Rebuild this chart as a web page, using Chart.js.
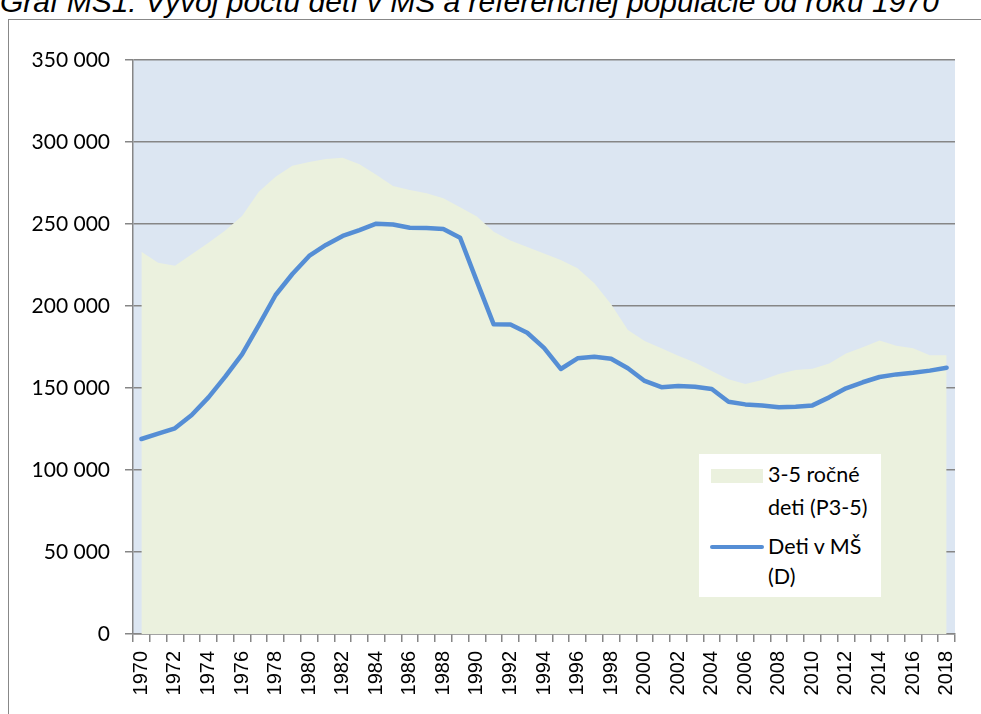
<!DOCTYPE html>
<html>
<head>
<meta charset="utf-8">
<script src="https://cdn.jsdelivr.net/npm/chart.js@4.4.1/dist/chart.umd.min.js"></script>
<style>
  html, body { margin: 0; padding: 0; background: #fff; width: 981px; height: 714px; overflow: hidden; position: relative; }
  #title { position: absolute; left: 0px; top: -13px; font-family: "Liberation Sans", Arial, sans-serif; font-style: italic; font-size: 30px; line-height: 30px; white-space: nowrap; color: #000; }
  #frame { position: absolute; left: 8px; top: 19px; width: 1000px; height: 720px; border-left: 1.5px solid #888; border-top: 1.5px solid #888; }
  #wrap { position: absolute; left: 0; top: 0; width: 981px; height: 714px; }
  #legend { position: absolute; left: 699px; top: 454px; width: 182px; height: 143px; background: #fff; font-family: Lato, "Open Sans", sans-serif; font-size: 21.5px; color: #000; }
  .item { position: absolute; left: 0; width: 182px; }
  .txt { position: absolute; left: 69px; line-height: 33px; white-space: nowrap; }
  .sw-area { position: absolute; left: 12px; width: 52px; height: 14px; background: #ebf1de; }
  .sw-line { position: absolute; left: 11px; width: 54px; height: 4px; border-radius: 2px; background: #558ed5; }
</style>
</head>
<body>
<div id="title">Graf MŠ1: Vývoj počtu detí v MŠ a referenčnej populácie od roku 1970</div>
<div id="frame"></div>
<div id="wrap"><canvas id="c" width="981" height="714"></canvas></div>
<div id="legend">
  <div class="item" style="top:0">
    <div class="sw-area" style="top:15px"></div>
    <div class="txt" style="top:4px">3-5 ročné<br>deti (P3-5)</div>
  </div>
  <div class="item" style="top:0">
    <div class="sw-line" style="top:91px"></div>
    <div class="txt" style="top:77px; line-height:30px">Deti v MŠ<br>(D)</div>
  </div>
</div>
<script>
const years = [1970,1971,1972,1973,1974,1975,1976,1977,1978,1979,1980,1981,1982,1983,1984,1985,1986,1987,1988,1989,
  1990,1991,1992,1993,1994,1995,1996,1997,1998,1999,2000,2001,2002,2003,2004,2005,2006,2007,2008,2009,
  2010,2011,2012,2013,2014,2015,2016,2017,2018];

const detiMS = [118900,122200,125400,133500,144300,156900,170500,188400,206700,219500,
  230500,237200,242700,246300,250200,249700,247700,247500,246900,241600,
  215000,188800,188700,183700,174500,161600,168100,169100,167800,162000,
  154300,150500,151200,150800,149400,141600,140000,139300,138200,138600,
  139400,144300,149800,153500,156700,158300,159300,160600,162400];

const deti35 = [233100,226400,224600,231500,238500,246000,254900,269700,278800,285500,
  287800,289600,290400,286500,280000,273200,270700,268700,265700,260200,
  254500,245300,240000,236000,232000,228000,223000,213800,201000,185400,
  178700,174200,169700,165600,160400,155300,152400,154900,158500,161000,
  161800,165000,171100,174800,178900,175800,174200,169900,169900];

const yMin = 0, yMax = 350000, yStep = 50000;
const seriesNames = ["Deti v MŠ (D)", "3-5 ročné deti (P3-5)"];

function fmt(v) { return String(v).replace(/\B(?=(\d{3})+(?!\d))/g, ' '); }

const bgPlugin = {
  id: 'plotBg',
  beforeDraw(chart) {
    const a = chart.chartArea, ctx = chart.ctx;
    ctx.save();
    ctx.fillStyle = '#dce6f2';
    ctx.fillRect(a.left, a.top, a.right - a.left, a.bottom - a.top);
    ctx.restore();
  }
};

new Chart(document.getElementById('c'), {
  type: 'line',
  data: {
    labels: years,
    datasets: [
      { label: seriesNames[0], data: detiMS, borderColor: '#558ed5', borderWidth: 4.5, pointRadius: 0,
        fill: false, tension: 0, borderJoinStyle: 'round', borderCapStyle: 'round', order: 0 },
      { label: seriesNames[1], data: deti35, borderWidth: 0, borderColor: 'rgba(0,0,0,0)', backgroundColor: '#ebf1de',
        pointRadius: 0, fill: 'origin', tension: 0, order: 1 }
    ]
  },
  options: {
    responsive: false,
    animation: false,
    events: [],
    layout: { padding: { left: 0, right: 26, top: 60, bottom: 0 } },
    plugins: { legend: { display: false }, title: { display: false }, tooltip: { enabled: false } },
    scales: {
      x: {
        type: 'category',
        offset: true,
        grid: { display: true, offset: true, drawOnChartArea: false, drawTicks: true, tickLength: 8, color: '#868686', lineWidth: 1.5 },
        border: { display: true, color: '#868686', width: 1.5 },
        ticks: {
          autoSkip: false, maxRotation: 90, minRotation: 90, padding: 9,
          color: '#000', font: { family: '"Liberation Sans", Arial, sans-serif', size: 20 },
          callback: function (val, idx) { const y = years[idx]; return (y % 2 === 0) ? String(y) : ''; }
        },
        afterFit(scale) { scale.height = 80; }
      },
      y: {
        min: yMin, max: yMax,
        grid: { color: '#868686', lineWidth: 1.5, drawTicks: true, tickLength: 8 },
        border: { display: true, color: '#868686', width: 1.5 },
        ticks: {
          stepSize: yStep, padding: 15, color: '#000',
          font: { family: 'Lato, "Open Sans", sans-serif', size: 21 },
          callback: (v) => fmt(v)
        },
        afterFit(scale) { scale.width = 133; }
      }
    }
  },
  plugins: [bgPlugin]
});
</script>
</body>
</html>
